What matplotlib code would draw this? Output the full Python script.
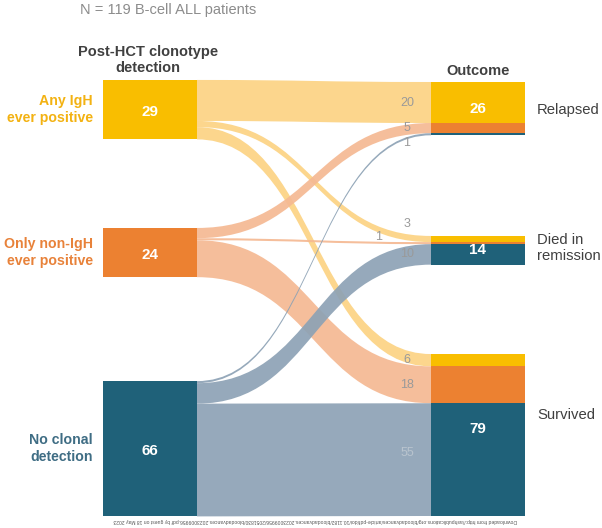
import numpy as np
import matplotlib.pyplot as plt
from matplotlib.path import Path
from matplotlib.patches import PathPatch, Rectangle

plt.rcParams["font.family"] = ["Liberation Sans", "DejaVu Sans"]

# data
groups = ["Any IgH\never positive", "Only non-IgH\never positive", "No clonal\ndetection"]
outcomes = ["Relapsed", "Died in\nremission", "Survived"]
# patients going from each detection group (rows) to each outcome (columns)
flows = np.array([
    [20, 3, 6],
    [5, 1, 18],
    [1, 10, 55],
])
group_totals = flows.sum(axis=1)
outcome_totals = flows.sum(axis=0)
n_total = flows.sum()

# colours
node_colors = ["#F9BE00", "#EC8131", "#1F6179"]
flow_colors = ["#FCD383", "#F5B993", "#8DA2B5"]
group_text_colors = ["#F3B212", "#E8823A", "#3F6D84"]
dark = "#404040"

# layout (x in pixels, y in patients)
s = 2.05
left_x0, left_x1 = 103, 197
right_x0, right_x1 = 431, 525
left_tops = [39.0, 111.2, 185.9]
right_tops = [40.0, 115.1, 172.7]
right_label_y = [110 / s, 248 / s, 415 / s]
# tweaks for the small flow numbers: (dx pixels, dy patients)
label_shift = {(0, 1): (0, -7.5), (1, 1): (-28, -3.0), (2, 0): (0, 4.5), (2, 2): (0, -3)}

fig = plt.figure(figsize=(6.02, 5.28), dpi=100)
ax = fig.add_axes([0, 0, 1, 1])
ax.set_xlim(0, 602)
ax.set_ylim(528 / s, 0)
ax.axis("off")


def band(x0, y0, x1, y1, w, color):
    xm = (x0 + x1) / 2
    verts = [(x0, y0), (xm, y0), (xm, y1), (x1, y1),
             (x1, y1 + w), (xm, y1 + w), (xm, y0 + w), (x0, y0 + w), (x0, y0)]
    codes = [Path.MOVETO, Path.CURVE4, Path.CURVE4, Path.CURVE4,
             Path.LINETO, Path.CURVE4, Path.CURVE4, Path.CURVE4, Path.CLOSEPOLY]
    ax.add_patch(PathPatch(Path(verts, codes), facecolor=color,
                           edgecolor="none", alpha=0.92, zorder=1))


# flows
left_cur = list(left_tops)
right_cur = list(right_tops)
for i in range(len(groups)):
    for j in range(len(outcomes)):
        w = flows[i, j]
        y0, y1 = left_cur[i], right_cur[j]
        band(left_x1, y0, right_x0, y1, w, flow_colors[i])
        dx, dy = label_shift.get((i, j), (0, 0))
        tc = "#B9C4CE" if i == 2 and w > 20 else "#9A9A9A"
        ax.text(right_x0 - 24 + dx, y1 + w / 2 + dy, str(w), ha="center",
                va="center", fontsize=9, color=tc, zorder=3)
        left_cur[i] += w
        right_cur[j] += w

# left nodes
for i, g in enumerate(groups):
    top = left_tops[i]
    h = group_totals[i]
    ax.add_patch(Rectangle((left_x0, top), left_x1 - left_x0, h,
                           facecolor=node_colors[i], edgecolor="none", zorder=2))
    ax.text((left_x0 + left_x1) / 2, top + h / 2 + 1, str(h), ha="center",
            va="center", fontsize=11, fontweight="bold", color="white", zorder=3)
    ax.text(93, top + h / 2, g, ha="right", va="center", fontsize=10.2,
            fontweight="bold", color=group_text_colors[i], linespacing=1.3)

# right nodes, stacked by source group
for j, o in enumerate(outcomes):
    y = right_tops[j]
    for i in range(len(groups)):
        ax.add_patch(Rectangle((right_x0, y), right_x1 - right_x0, flows[i, j],
                               facecolor=node_colors[i], edgecolor="none", zorder=2))
        y += flows[i, j]
    h = outcome_totals[j]
    ax.text((right_x0 + right_x1) / 2, right_tops[j] + h / 2 - (3 if j == 2 else 0),
            str(h), ha="center", va="center", fontsize=11, fontweight="bold",
            color="white", zorder=3)
    ax.text(537, right_label_y[j], o, ha="left", va="center", fontsize=10.7,
            color=dark, linespacing=1.25)

# headings
ax.text(80, 10 / s, f"N = {n_total} B-cell ALL patients", ha="left", va="center",
        fontsize=10.5, color="#8C8C8C")
ax.text(148, 60 / s, "Post-HCT clonotype\ndetection", ha="center", va="center",
        fontsize=10.5, fontweight="bold", color=dark, linespacing=1.25)
ax.text(478, 71 / s, "Outcome", ha="center", va="center", fontsize=10.5,
        fontweight="bold", color=dark)

# upside-down download stamp
ax.text(315, 521 / s,
        "Downloaded from http://ashpublications.org/bloodadvances/article-pdf/doi/10.1182/"
        "bloodadvances.2023009956/2051830/bloodadvances.2023009956.pdf by guest on 18 May 2023",
        ha="center", va="center", rotation=180, fontsize=3.6, color="#555555")

fig.savefig("out.png", dpi=100)
